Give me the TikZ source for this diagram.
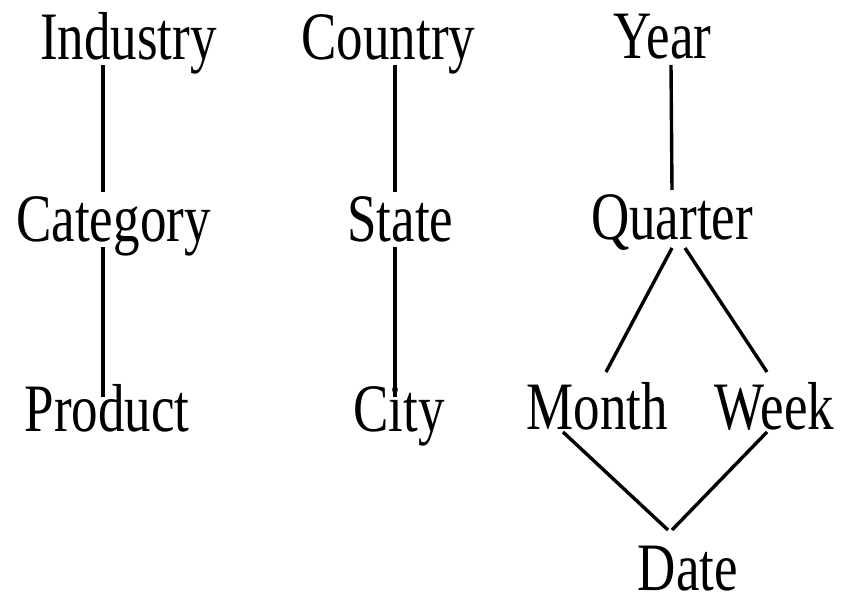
\documentclass[tikz,border=0pt]{standalone}
\usepackage{fontspec}
\setmainfont{Liberation Serif}
\usepackage{graphicx}
\usetikzlibrary{calc}
\newcommand{\tallword}[1]{\scalebox{1}[1.28]{#1}}
\tikzset{level/.style={anchor=base, inner sep=0pt, font=\fontsize{26.5}{30}\selectfont}}
\tikzset{link/.style={line width=1.7pt}}

\begin{document}
\begin{tikzpicture}[x=0.5pt,y=-0.5pt]
    \useasboundingbox (0,0) rectangle (841,598);
    % place nodes
    \node[level] at (128.5,60)  (industry) {\tallword{Industry}};
    \node[level] at (388.5,60)  (country)  {\tallword{Country}};
    \node[level] at (662.5,59)  (year)     {\tallword{Year}};

    \node[level] at (113.5,242) (category) {\tallword{Category}};
    \node[level] at (400.5,242) (state)    {\tallword{State}};
    \node[level] at (672,240)   (quarter)  {\tallword{Quarter}};

    \node[level] at (107,432)   (product)  {\tallword{Product}};
    \node[level] at (399,432)   (city)     {\tallword{City}};
    \node[level] at (597.5,430) (month)    {\tallword{Month}};
    \node[level] at (774.5,430) (week)     {\tallword{Week}};

    \node[level] at (688,590)   (date)     {\tallword{Date}};

    % draw edges
    \draw[link] ($(industry.base)+(-25.5,5)$) -- ($(category.base)+(-10.5,-50)$);
    \draw[link] ($(category.base)+(-10.5,5)$) -- ($(product.base)+(-4,-35)$);
    \draw[link] ($(country.base)+(6.5,5)$) -- ($(state.base)+(-5.5,-50)$);
    \draw[link] ($(state.base)+(-5.5,5)$) -- ($(city.base)+(-4,-35)$);
    \draw[link] ($(year.base)+(8.5,6)$) -- ($(quarter.base)+(0,-50)$);
    \draw[link] ($(quarter.base)+(0,8)$) -- ($(month.base)+(8.5,-58)$);
    \draw[link] ($(quarter.base)+(13,8)$) -- ($(week.base)+(-7.5,-58)$);
    \draw[link] ($(month.base)+(-34.5,2)$) -- ($(date.base)+(-20,-60)$);
    \draw[link] ($(week.base)+(-7.5,2)$) -- ($(date.base)+(-16,-60)$);
\end{tikzpicture}
\end{document}
